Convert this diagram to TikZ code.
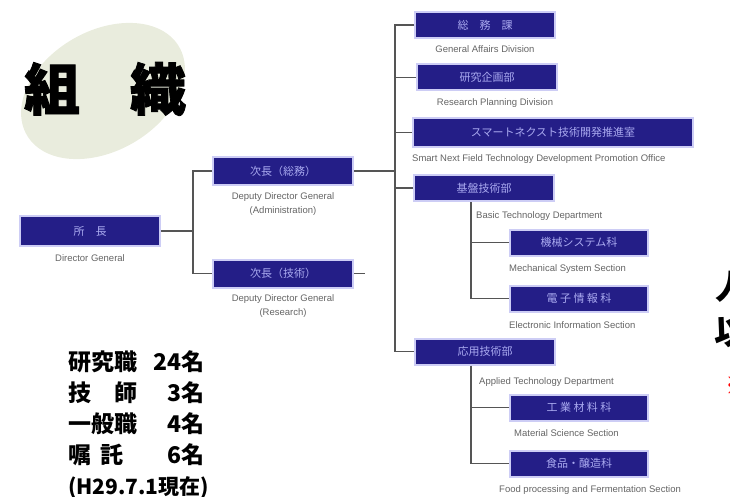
\documentclass[tikz,border=0pt]{standalone}
\usepackage{fontspec}
\newfontfamily\jpfont{Noto Sans CJK JP}
\newfontfamily\jpheavy{Noto Sans CJK JP}[BoldFeatures={FakeBold=1.5}]
\newfontfamily\enfont{Liberation Sans}
\usetikzlibrary{positioning}
\definecolor{navy}{RGB}{36,30,135}
\definecolor{lavender}{RGB}{205,205,245}
\definecolor{boxtext}{RGB}{170,170,240}
\definecolor{blobbeige}{RGB}{233,236,221}
\definecolor{linegray}{RGB}{85,85,85}
\definecolor{labelgray}{RGB}{100,100,100}

\begin{document}
\begin{tikzpicture}[x=1pt, y=-1pt, node distance=5pt]
% Define styles
\tikzstyle{unit} = [rectangle, draw=lavender, line width=2pt, fill=navy, text=boxtext, minimum width=140pt, minimum height=26pt, inner sep=0pt, font=\jpfont\fontsize{11}{11}\selectfont]
\tikzstyle{caption} = [inner sep=0pt, align=center, text=labelgray, font=\enfont\fontsize{9.5}{14}\selectfont]
\tikzstyle{link} = [draw=linegray, line width=1.3pt]

\useasboundingbox (0,0) rectangle (730,497);
\clip (0,0) rectangle (730,497);

% Title
\fill[blobbeige, rotate around={30:(103,91)}] (103,91) ellipse (88 and 60);
\node (title) at (105,89) {\jpheavy\bfseries\fontsize{56}{56}\selectfont 組\hspace{50pt}織};

% Director and deputies
\node (director) [unit, minimum height=30pt] at (90,231) {所　長};
\node (deputyA) [unit, minimum height=28pt] at (283,171) {次長（総務）};
\node (deputyB) [unit, minimum height=28pt] at (283,273.5) {次長（技術）};

% Divisions
\node (general) [unit] at (485,25) {総　務　課};
\node (planning) [unit] at (487,77.5) {研究企画部};
\node (promo) [unit, minimum width=280pt, minimum height=29pt] at (553,132.5) {スマートネクスト技術開発推進室};
\node (basic) [unit] at (484,188) {基盤技術部};
\node (applied) [unit] at (485,351.5) {応用技術部};

% Sections
\node (mech) [unit, minimum width=138pt] at (579,242.5) {機械システム科};
\node (elec) [unit, minimum width=138pt] at (579,298.5) {電 子 情 報 科};
\node (material) [unit, minimum width=138pt] at (579,407.5) {工 業 材 料 科};
\node (food) [unit, minimum width=138pt] at (579,463.5) {食品・醸造科};

% Captions
\node (directorcap) [caption, below=7pt of director] {Director General};
\node (deputyAcap) [caption, below=6pt of deputyA] {Deputy Director General\\(Administration)};
\node (deputyBcap) [caption, below=6pt of deputyB] {Deputy Director General\\(Research)};
\node (generalcap) [caption, below=6pt of general] {General Affairs Division};
\node (planningcap) [caption, below=7pt of planning, xshift=8pt] {Research Planning Division};
\node (promocap) [caption, below=6pt of promo.south west, anchor=north west] {Smart Next Field Technology Development Promotion Office};
\node (basiccap) [caption, below=9pt of basic.south west, anchor=north west, xshift=63pt] {Basic Technology Department};
\node (mechcap) [caption, below=8pt of mech.south west, anchor=north west] {Mechanical System Section};
\node (eleccap) [caption, below=9pt of elec.south west, anchor=north west] {Electronic Information Section};
\node (appliedcap) [caption, below=12pt of applied.south west, anchor=north west, xshift=65pt] {Applied Technology Department};
\node (materialcap) [caption, below=8pt of material.south west, anchor=north west, xshift=5pt] {Material Science Section};
\node (foodcap) [caption, below=8pt of food.south west, anchor=north west, xshift=-10pt] {Food processing and Fermentation Section};

% Connectors
\coordinate (spineA) at (193,0);
\coordinate (spineB) at (395,0);
\coordinate (spineC) at (471,0);
\coordinate (stub) at (365,273.5);
\draw [link] (director.east) -- (director.east -| spineA);
\draw [link] (deputyA.west) -- (deputyA.west -| spineA) |- (deputyB.west);
\draw [link] (deputyA.east) -- (deputyA.east -| spineB);
\draw [link] (deputyB.east) -- (stub);
\draw [link] (general.west) -- (general.west -| spineB) |- (applied.west);
\draw [link] (planning.west) -- (planning.west -| spineB);
\draw [link] (promo.west) -- (promo.west -| spineB);
\draw [link] (basic.west) -- (basic.west -| spineB);
\draw [link] (basic.south -| spineC) |- (elec.west);
\draw [link] (mech.west) -- (mech.west -| spineC);
\draw [link] (applied.south -| spineC) |- (food.west);
\draw [link] (material.west) -- (material.west -| spineC);

% Staff numbers
\node (staff) [anchor=north west, inner sep=0pt, font=\jpfont\bfseries\fontsize{23}{31}\selectfont] at (68,349) {%
\begin{tabular}{@{}l@{\hspace{16pt}}r@{}}
研究職 & 24名\\
\makebox[3em][l]{技\hfill 師} & 3名\\
一般職 & 4名\\
\makebox[3em][l]{嘱\hspace{0.4em}託} & 6名
\end{tabular}};
\node (asof) [below=3pt of staff.south west, anchor=north west, inner sep=0pt, font=\jpfont\bfseries\fontsize{21}{21}\selectfont] {(H29.7.1現在)};

% Cut-off text at the right edge
\node (edgeA) [anchor=west, inner sep=0pt, font=\jpfont\bfseries\fontsize{34}{34}\selectfont] at (715,287) {人};
\node (edgeB) [anchor=west, inner sep=0pt, font=\jpfont\bfseries\fontsize{34}{34}\selectfont] at (714,333) {以};
\node (edgeC) [anchor=west, inner sep=0pt, text=red, font=\jpfont\bfseries\fontsize{24}{24}\selectfont] at (725,386) {※};
\end{tikzpicture}
\end{document}
